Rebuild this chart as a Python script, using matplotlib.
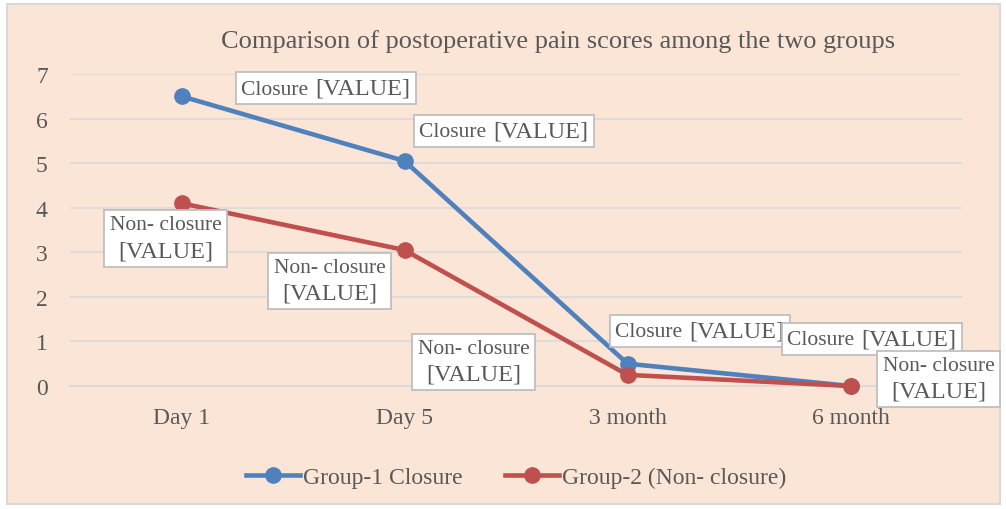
import matplotlib.pyplot as plt
from matplotlib.patches import Rectangle
from matplotlib.offsetbox import TextArea, HPacker, VPacker, AnnotationBbox

# data
categories = ["Day 1", "Day 5", "3 month", "6 month"]
closure = [6.5, 5.05, 0.5, 0.0]
non_closure = [4.1, 3.05, 0.25, 0.0]

# label box offsets (pixels) relative to each point
closure_offsets = [(144, 8), (99, 30), (72, 33), (21, 47)]
non_closure_offsets = [(-16, -35), (-75, -31), (-154, 13), (88, 7)]

blue = "#4F81BD"
red = "#C0504D"
grey_txt = "#595959"
bg = "#FBE5D6"
grid_c = "#D9D9D9"

plt.rcParams["font.family"] = ["Liberation Serif", "DejaVu Serif"]

fig = plt.figure(figsize=(10.06, 5.10), dpi=100)
fig.patch.set_facecolor("white")
fig.patches.append(Rectangle((7 / 1006, 5 / 510), 993 / 1006, 500 / 510,
                             transform=fig.transFigure, facecolor=bg,
                             edgecolor=grid_c, linewidth=1.5, zorder=-10))

ax = fig.add_axes([70 / 1006, 1 - 387 / 510, 892 / 1006, 312 / 510])
ax.set_facecolor("none")

x = list(range(len(categories)))
ax.plot(x, closure, color=blue, lw=3.3, marker="o", ms=11,
        label="Group-1 Closure", clip_on=False, zorder=3)
ax.plot(x, non_closure, color=red, lw=3.3, marker="o", ms=11,
        label="Group-2 (Non- closure)", clip_on=False, zorder=3)


def label_box(name, stacked):
    # "[VALUE]" is set a little larger than the series name, as in the source
    a = TextArea(name, textprops=dict(fontsize=15.5, color=grey_txt))
    b = TextArea("[VALUE]", textprops=dict(fontsize=17.5, color=grey_txt))
    if stacked:
        return VPacker(children=[a, b], align="center", pad=0, sep=4)
    return HPacker(children=[a, b], align="baseline", pad=0, sep=1)


bprops = dict(facecolor="white", edgecolor="#BFBFBF", lw=1.3)
for i, (v, off) in enumerate(zip(closure, closure_offsets)):
    ab = AnnotationBbox(label_box("Closure ", False), (i, v), xybox=off,
                        xycoords="data", boxcoords="offset pixels",
                        frameon=True, pad=0.4, bboxprops=bprops,
                        annotation_clip=False, zorder=5)
    ax.add_artist(ab)
for i, (v, off) in enumerate(zip(non_closure, non_closure_offsets)):
    ab = AnnotationBbox(label_box("Non- closure", True), (i, v), xybox=off,
                        xycoords="data", boxcoords="offset pixels",
                        frameon=True, pad=0.4, bboxprops=bprops,
                        annotation_clip=False, zorder=5)
    ax.add_artist(ab)

ax.set_xlim(-0.5, 3.5)
ax.set_ylim(0, 7)
ax.set_yticks(range(0, 8))
ax.set_xticks(x)
ax.set_xticklabels(categories)
ax.tick_params(axis="both", length=0, labelsize=17, labelcolor=grey_txt)
ax.tick_params(axis="y", pad=16)
ax.tick_params(axis="x", pad=15)
ax.grid(axis="y", color=grid_c, lw=1.2)
ax.set_axisbelow(True)
for s in ["top", "right", "left"]:
    ax.spines[s].set_visible(False)
ax.spines["bottom"].set_color(grid_c)
ax.spines["bottom"].set_linewidth(1.2)

fig.text(558 / 1006, 1 - 42 / 510, "Comparison of postoperative pain scores among the two groups",
         ha="center", va="center", fontsize=19, color=grey_txt)

fig.legend(loc="center", bbox_to_anchor=(516 / 1006, 1 - 478 / 510), ncol=2,
           frameon=False, fontsize=17, labelcolor=grey_txt, handlelength=2.3,
           handletextpad=0.1, columnspacing=1.8)

fig.savefig("out.png", dpi=100, facecolor=fig.get_facecolor())
